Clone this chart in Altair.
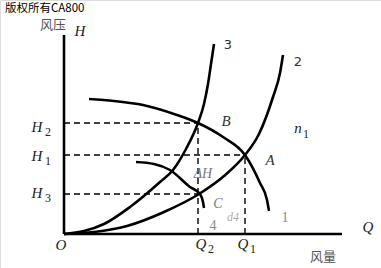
import altair as alt
import pandas as pd

# ---- curve data (Q = flow, H = pressure, arbitrary units)
q_fan1 = [25, 50, 79, 113, 134, 159, 181, 196, 203, 205]
h_fan1 = [135, 133, 129, 119, 111, 97, 79, 51, 34, 23]

q_sys2 = [0, 30, 63, 100, 135, 160, 181, 195, 209, 216, 219]
h_sys2 = [0, 2, 8, 22, 40, 58, 79, 100, 137, 161, 179]

q_sys3 = [0, 20, 40, 66, 96, 109, 122, 134, 140, 144, 147, 150]
h_sys3 = [0, 3, 10, 27, 52, 64, 85, 111, 130, 150, 170, 190]

q_fan4 = [72, 90, 106, 126, 136, 139, 140]
h_fan4 = [72, 70, 64, 47, 40, 32, 26]

# operating points
pt_names = ["B", "A", "C"]
pt_q = [134, 181, 136]
pt_h = [111, 79, 40]

q_max = 278
h_max = 199

rows = []
for cid, qs, hs in [("1", q_fan1, h_fan1), ("2", q_sys2, h_sys2),
                    ("3", q_sys3, h_sys3), ("4", q_fan4, h_fan4)]:
    for i, (q, h) in enumerate(zip(qs, hs)):
        rows.append({"curve": cid, "o": i, "q": q, "h": h})
curves = pd.DataFrame(rows)

xs = alt.Scale(domain=[-64, 317], nice=False, zero=False)
ys = alt.Scale(domain=[-34, 234], nice=False, zero=False)

def X(f):
    return alt.X(f, type="quantitative", scale=xs, axis=None)

def Y(f):
    return alt.Y(f, type="quantitative", scale=ys, axis=None)

curve_layer = alt.Chart(curves).mark_line(
    color="black", strokeWidth=2.6, interpolate="monotone"
).encode(x=X("q"), y=Y("h"), detail="curve:N", order="o:Q")

axes = pd.DataFrame([
    {"x": 0, "y": 0, "x2": 0, "y2": h_max},
    {"x": 0, "y": 0, "x2": q_max, "y2": 0},
])
axis_layer = alt.Chart(axes).mark_rule(color="black", strokeWidth=2.6).encode(
    x=X("x"), y=Y("y"), x2="x2:Q", y2="y2:Q")

dash_rows = []
for q, h in zip(pt_q[:2], pt_h[:2]):
    dash_rows.append({"x": 0, "y": h, "x2": q, "y2": h})
    dash_rows.append({"x": q, "y": 0, "x2": q, "y2": h})
dash_rows.append({"x": 0, "y": pt_h[2], "x2": pt_q[2], "y2": pt_h[2]})
dash_layer = alt.Chart(pd.DataFrame(dash_rows)).mark_rule(
    color="black", strokeWidth=1.4, strokeDash=[6, 4]).encode(
    x=X("x"), y=Y("y"), x2="x2:Q", y2="y2:Q")

def px(x, y):
    return x - 64, 234 - y

def text_layer(items, **kw):
    df = pd.DataFrame([{"x": px(a, b)[0], "y": px(a, b)[1], "t": t} for t, a, b in items])
    return alt.Chart(df).mark_text(**kw).encode(x=X("x"), y=Y("y"), text="t:N")

serif = "Liberation Serif"

main_it = text_layer(
    [("H", 80, 31), ("H", 37, 127), ("H", 37, 156), ("H", 37, 193),
     ("O", 61, 245), ("Q", 201, 244), ("Q", 243, 244), ("Q", 368, 227),
     ("n", 298, 128)],
    font=serif, fontStyle="italic", fontSize=15, color="#222",
    align="center", baseline="middle")
subs = text_layer(
    [("2", 48, 132), ("1", 48, 161), ("3", 48, 198),
     ("2", 211, 249), ("1", 253, 249), ("1", 306, 134)],
    font=serif, fontSize=12, color="#222", align="center", baseline="middle")
curve_nums = text_layer(
    [("3", 228, 45), ("2", 298, 62)],
    font="DejaVu Sans", fontSize=13, color="#333", align="center", baseline="middle")
pt_labels = text_layer(
    [("B", 226, 121), ("A", 270, 160)],
    font=serif, fontStyle="italic", fontSize=15, color="#333",
    align="center", baseline="middle")
faint = text_layer(
    [("ΔH", 203, 174), ("C", 218, 204)],
    font=serif, fontStyle="italic", fontSize=14, color="#777",
    align="center", baseline="middle")
faint_up = text_layer(
    [("4", 213, 226), ("1", 285, 218)],
    font=serif, fontSize=14, color="#888",
    align="center", baseline="middle")
faint2 = text_layer(
    [("d4", 233, 217)],
    font=serif, fontStyle="italic", fontSize=12, color="#aaa",
    align="center", baseline="middle")
cn = text_layer(
    [("风压", 53, 25), ("风量", 323, 257)],
    font="Noto Sans CJK SC", fontSize=13, color="#555",
    align="center", baseline="middle")
wm = text_layer(
    [("版权所有CA800", 5, 9)],
    font="Noto Sans CJK SC", fontSize=11.5, color="black",
    align="left", baseline="middle")

chart = alt.layer(
    dash_layer, axis_layer, curve_layer,
    main_it, subs, curve_nums, pt_labels, faint, faint_up, faint2, cn, wm
).properties(
    width=381, height=268,
    autosize=alt.AutoSizeParams(type="none"),
    padding=0,
).configure_view(stroke=None).configure(background="white")

chart.save("out.html", embed_options={"renderer": "svg", "actions": False})
